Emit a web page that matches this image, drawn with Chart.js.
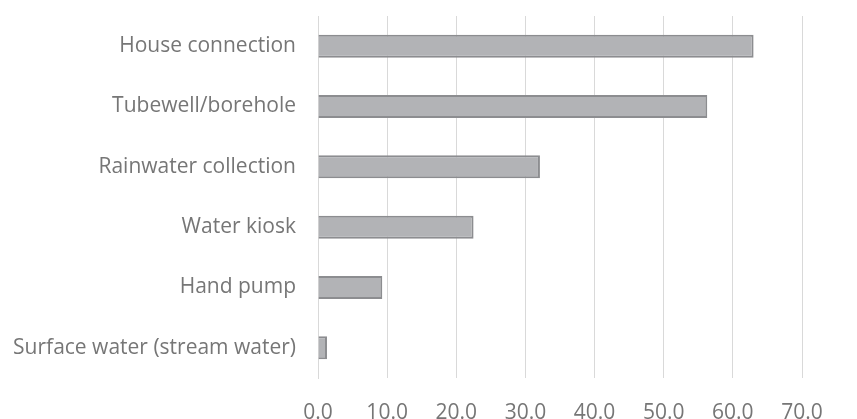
<!DOCTYPE html>
<html>
<head>
<meta charset="utf-8">
<script src="https://cdn.jsdelivr.net/npm/chart.js@4/dist/chart.umd.min.js"></script>
<style>
  html, body { margin: 0; padding: 0; background: #ffffff; }
  #wrap { width: 857px; height: 419px; position: relative; }
</style>
</head>
<body>
<div id="wrap"><canvas id="c"></canvas></div>
<script>
// Main source of drinking water (% of households)
const categories = [
  'House connection',
  'Tubewell/borehole',
  'Rainwater collection',
  'Water kiosk',
  'Hand pump',
  'Surface water (stream water)'
];
const shares = [63.0, 56.3, 32.1, 22.5, 9.3, 1.3];
const axisMin = 0;
const axisMax = 70;
const axisStep = 10;

const textColor = '#767676';
const gridColor = '#d9d9d9';
const fontFamily = '"Open Sans", "Liberation Sans", sans-serif';

new Chart(document.getElementById('c'), {
  type: 'bar',
  data: {
    labels: categories,
    datasets: [{
      data: shares,
      backgroundColor: '#b2b3b6',
      borderColor: '#8c8d90',
      borderWidth: 2,
      barPercentage: 0.38,
      categoryPercentage: 1.0
    }]
  },
  options: {
    indexAxis: 'y',
    responsive: true,
    maintainAspectRatio: false,
    animation: false,
    layout: { padding: { top: 16, right: 55, left: 0, bottom: 0 } },
    plugins: { legend: { display: false }, tooltip: { enabled: false } },
    scales: {
      x: {
        min: axisMin,
        max: axisMax,
        ticks: {
          stepSize: axisStep,
          color: textColor,
          font: { family: fontFamily, size: 21 },
          padding: 22,
          maxRotation: 0,
          callback: (v) => Number(v).toFixed(1)
        },
        grid: { color: gridColor, lineWidth: 1, drawTicks: false },
        border: { display: false },
        afterFit: (s) => { s.height = 41; }
      },
      y: {
        ticks: {
          color: textColor,
          font: { family: fontFamily, size: 21 },
          padding: 22
        },
        grid: { display: false, drawTicks: false },
        border: { display: true, color: gridColor, width: 1 },
        afterFit: (s) => {
          s.width = 318;
          // category labels sit mid-band, so no extra room is needed above/below
          s.paddingTop = 0;
          s.paddingBottom = 0;
        }
      }
    }
  }
});
</script>
</body>
</html>
